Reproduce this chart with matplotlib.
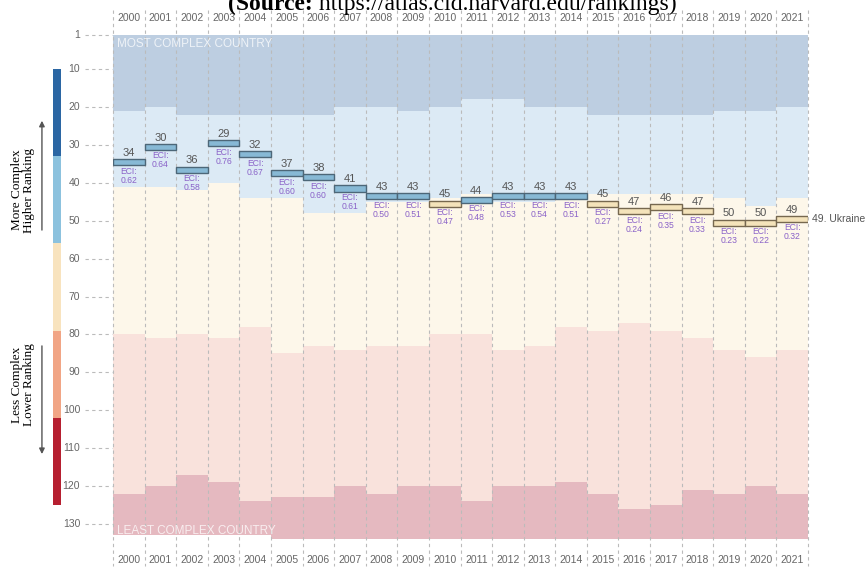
import numpy as np
from matplotlib import pyplot as plt
from matplotlib.patches import Rectangle

# data
years = list(range(2000, 2022))
ranks = [34, 30, 36, 29, 32, 37, 38, 41, 43, 43, 45, 44, 43, 43, 43, 45, 47, 46, 47, 50, 50, 49]
eci = [0.62, 0.64, 0.58, 0.76, 0.67, 0.60, 0.60, 0.61, 0.50, 0.51, 0.47, 0.48, 0.53, 0.54, 0.51,
       0.27, 0.24, 0.35, 0.33, 0.23, 0.22, 0.32]

# lower edge of each background band, per year (rank)
band_top = [1] * 22
band1_bottom = [21, 20, 22, 22, 22, 22, 22, 20, 20, 21, 20, 18, 18, 20, 20, 22, 22, 22, 22, 21, 21, 20]
band2_bottom = [41, 41, 42, 40, 44, 44, 48, 48, 45, 45, 44, 43, 45, 45, 43, 43, 43, 43, 43, 44, 46, 44]
band3_bottom = [80, 81, 80, 81, 78, 85, 83, 84, 83, 83, 80, 80, 84, 83, 78, 79, 77, 79, 81, 84, 86, 84]
band4_bottom = [122, 120, 117, 119, 124, 123, 123, 120, 122, 120, 120, 124, 120, 120, 119, 122, 126, 125, 121, 122, 120, 122]
band5_bottom = [133] * 5 + [134] * 17

y_ticks = [1, 10, 20, 30, 40, 50, 60, 70, 80, 90, 100, 110, 120, 130]
country = "Ukraine"
last_rank = 49

band_colors = ["#bdcee1", "#dceaf5", "#fdf7ea", "#f9e2dc", "#e5b9c0"]
scale_colors = ["#2b66a3", "#8cc2de", "#f8e3be", "#f1a585", "#b61f30"]
scale_range = (10, 125)

fig = plt.figure(figsize=(8.68, 5.68), dpi=100)
ax = fig.add_axes([0.1302, 0.0442, 0.8007, 0.9009])
ax.set_xlim(0, 22)
ax.set_ylim(135, 0)
ax.axis("off")

tops = [band_top, band1_bottom, band2_bottom, band3_bottom, band4_bottom]
bottoms = [band1_bottom, band2_bottom, band3_bottom, band4_bottom, band5_bottom]
for i in range(len(years)):
    for k in range(5):
        ax.add_patch(Rectangle((i, tops[k][i]), 1, bottoms[k][i] - tops[k][i],
                               facecolor=band_colors[k], edgecolor="none", zorder=0))

# dashed column separators
for i in range(len(years) + 1):
    ax.plot([i, i], [-5.5, 141], color="#bbbbbb", lw=0.8, ls=(0, (3, 3)),
            zorder=1, clip_on=False)

# year labels top and bottom
for i, yr in enumerate(years):
    ax.text(i + 0.5, -3.6, str(yr), ha="center", va="center", fontsize=7.5,
            color="#666666", family="Liberation Sans", clip_on=False)
    ax.text(i + 0.5, 139.5, str(yr), ha="center", va="center", fontsize=7.5,
            color="#666666", family="Liberation Sans", clip_on=False)

# y ticks with dashed leaders
for t in y_ticks:
    ax.plot([-0.89, -0.03], [t, t], color="#bbbbbb", lw=0.8, ls=(0, (3, 3)), clip_on=False)
    ax.text(-1.04, t, str(t), ha="right", va="center", fontsize=7.5,
            color="#666666", family="Liberation Sans", clip_on=False)

ax.text(0.13, 3.4, "MOST COMPLEX COUNTRY", ha="left", va="center", fontsize=8.5,
        color="white", alpha=0.75, family="Liberation Sans")
ax.text(0.13, 131.8, "LEAST COMPLEX COUNTRY", ha="left", va="center", fontsize=8.5,
        color="white", alpha=0.75, family="Liberation Sans")

# rank bars
for i, (r, e) in enumerate(zip(ranks, eci)):
    if r <= 44:
        fc, ec = "#87b9d5", "#4d6778"
    else:
        fc, ec = "#f4e3ba", "#76684f"
    ax.add_patch(Rectangle((i, r - 0.3), 1, 1.6, facecolor=fc, edgecolor=ec, lw=1.0, zorder=3))
    ax.text(i + 0.5, r - 0.6, str(r), ha="center", va="bottom", fontsize=8,
            color="#555555", family="Liberation Sans", zorder=4)
    ax.text(i + 0.5, r + 1.7, "ECI:\n%.2f" % e, ha="center", va="top", fontsize=6.2,
            color="#8a62c8", family="Liberation Sans", linespacing=1.0, zorder=4)

ax.text(len(years) + 0.12, last_rank + 0.5, "%d. %s" % (last_rank, country), ha="left",
        va="center", fontsize=7.5, color="#555555", family="Liberation Sans", clip_on=False)

# left colour scale
seg = (scale_range[1] - scale_range[0]) / len(scale_colors)
for k, c in enumerate(scale_colors):
    ax.add_patch(Rectangle((-1.90, scale_range[0] + k * seg), 0.26, seg, facecolor=c,
                           edgecolor="none", clip_on=False))

ax.annotate("", xy=(-2.25, 22.9), xytext=(-2.25, 53.2), annotation_clip=False,
            arrowprops=dict(arrowstyle="-|>", color="#555555", lw=1.0, mutation_scale=8))
ax.annotate("", xy=(-2.25, 112.3), xytext=(-2.25, 82.3), annotation_clip=False,
            arrowprops=dict(arrowstyle="-|>", color="#555555", lw=1.0, mutation_scale=8))
ax.text(-2.85, 41.9, "More Complex\nHigher Ranking", rotation=90, ha="center", va="center",
        fontsize=9.5, family="Liberation Serif", linespacing=1.0, clip_on=False)
ax.text(-2.85, 93.3, "Less Complex\nLower Ranking", rotation=90, ha="center", va="center",
        fontsize=9.5, family="Liberation Serif", linespacing=1.0, clip_on=False)

# source line, partly cut off at the top
t1 = fig.text(0.2627, 1 - 10 / 568, "(Source:", fontsize=17, fontweight="bold",
              family="Liberation Serif", va="baseline", ha="left")
ax.annotate(" https://atlas.cid.harvard.edu/rankings)", xy=(1, 0), xycoords=t1,
            va="bottom", ha="left", fontsize=17, family="Liberation Serif",
            annotation_clip=False)

fig.savefig("out.png", dpi=100)
